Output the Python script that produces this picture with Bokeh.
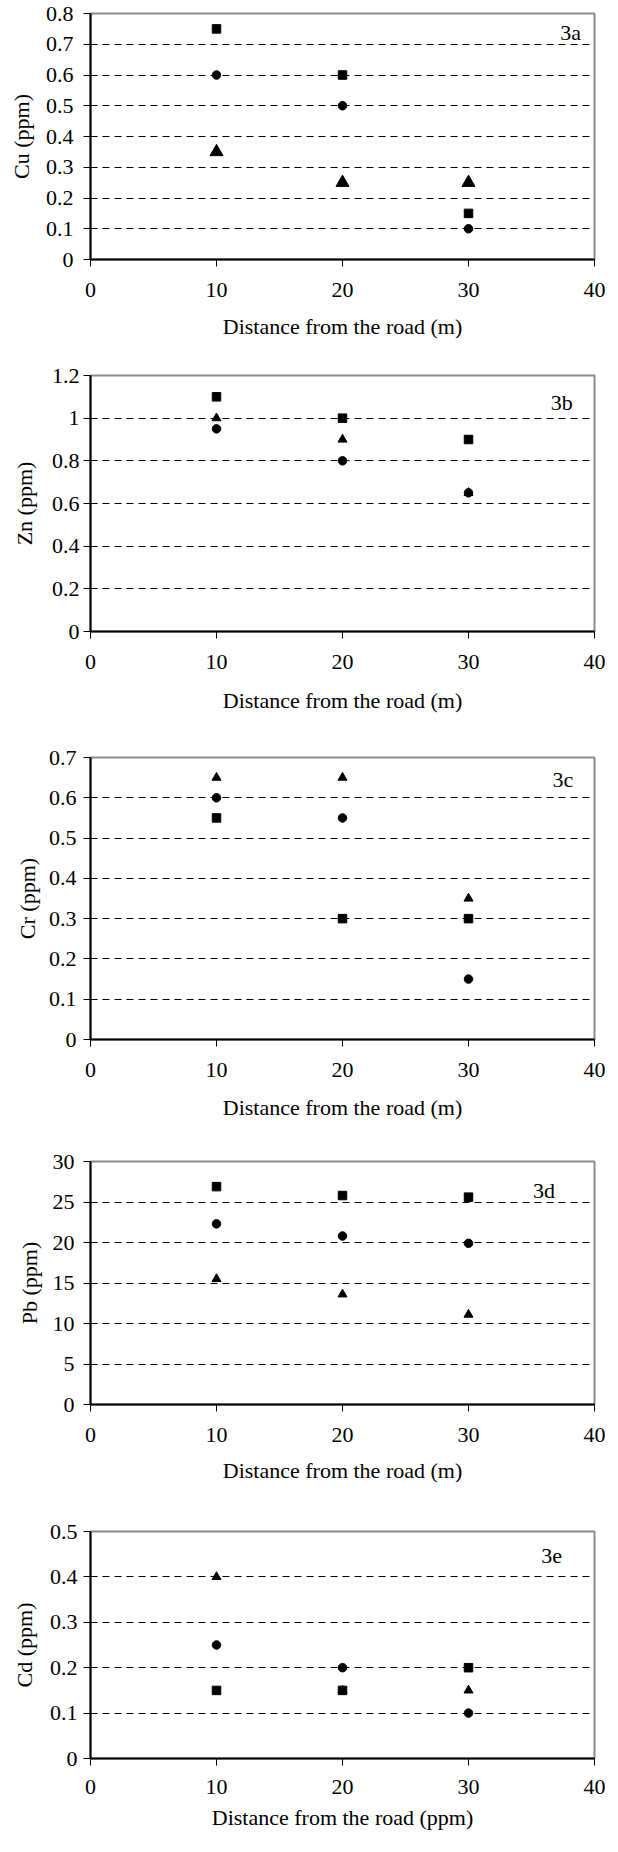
from bokeh.plotting import figure
from bokeh.layouts import column
from bokeh.models import FixedTicker, NumeralTickFormatter, Label, Range1d
from bokeh.embed import file_html
from bokeh.resources import INLINE

# ---------------- data ----------------
distance = [10, 20, 30]
x_ticks = [0, 10, 20, 30, 40]

cu_square = [0.75, 0.60, 0.15]
cu_circle = [0.60, 0.50, 0.10]
cu_triangle = [0.35, 0.25, 0.25]
cu_ticks = [0, 0.1, 0.2, 0.3, 0.4, 0.5, 0.6, 0.7, 0.8]

zn_square = [1.10, 1.00, 0.90]
zn_circle = [0.95, 0.80, 0.65]
zn_triangle = [1.00, 0.90, 0.65]
zn_ticks = [0, 0.2, 0.4, 0.6, 0.8, 1.0, 1.2]

cr_square = [0.55, 0.30, 0.30]
cr_circle = [0.60, 0.55, 0.15]
cr_triangle = [0.65, 0.65, 0.35]
cr_ticks = [0, 0.1, 0.2, 0.3, 0.4, 0.5, 0.6, 0.7]

pb_square = [26.9, 25.8, 25.6]
pb_circle = [22.3, 20.8, 19.9]
pb_triangle = [15.5, 13.6, 11.1]
pb_ticks = [0, 5, 10, 15, 20, 25, 30]

cd_square = [0.15, 0.15, 0.20]
cd_circle = [0.25, 0.20, 0.10]
cd_triangle = [0.40, 0.15, 0.15]
cd_ticks = [0, 0.1, 0.2, 0.3, 0.4, 0.5]

y_titles = ["Cu (ppm)", "Zn (ppm)", "Cr (ppm)", "Pb (ppm)", "Cd (ppm)"]
x_titles = ["Distance from the road (m)"] * 4 + ["Distance from the road (ppm)"]
panel_tags = ["3a", "3b", "3c", "3d", "3e"]

series = [
    (cu_square, cu_circle, cu_triangle, cu_ticks),
    (zn_square, zn_circle, zn_triangle, zn_ticks),
    (cr_square, cr_circle, cr_triangle, cr_ticks),
    (pb_square, pb_circle, pb_triangle, pb_ticks),
    (cd_square, cd_circle, cd_triangle, cd_ticks),
]

# ---------------- layout / style ----------------
FONT = "Liberation Serif"
W = 609
layout = [
    dict(h=354, t=13, b=95,  l=82, r=11, ys=10, yls=9,  xs=16, xls=14, tri=13, tx=38.1, ty=0.737),
    dict(h=380, t=21, b=103, l=90, r=13, ys=4,  yls=12, xs=16, xls=16, tri=9,  tx=37.4, ty=1.073),
    dict(h=398, t=23, b=93,  l=85, r=13, ys=7,  yls=6,  xs=16, xls=15, tri=9,  tx=37.5, ty=0.646),
    dict(h=365, t=29, b=93,  l=78, r=15, ys=9,  yls=8,  xs=16, xls=13, tri=9,  tx=36.0, ty=26.4),
    dict(h=339, t=34, b=78,  l=84, r=14, ys=6,  yls=10, xs=14, xls=8,  tri=9,  tx=36.6, ty=0.446),
]

figs = []
for i, ((sq, ci, tr, yt), L) in enumerate(zip(series, layout)):
    p = figure(width=W, height=L["h"], output_backend="svg", toolbar_location=None,
               x_range=Range1d(0, 40), y_range=Range1d(0, yt[-1]),
               min_border_top=L["t"], min_border_bottom=L["b"],
               min_border_left=L["l"], min_border_right=L["r"])
    p.background_fill_color = "white"
    p.border_fill_color = "white"
    p.outline_line_color = "#8c8c8c"
    p.outline_line_width = 2

    p.xgrid.visible = False
    p.ygrid.ticker = FixedTicker(ticks=yt[1:-1])
    p.ygrid.grid_line_color = "black"
    p.ygrid.grid_line_width = 1
    p.ygrid.grid_line_dash = "7 5"

    p.xaxis.ticker = FixedTicker(ticks=x_ticks)
    p.yaxis.ticker = FixedTicker(ticks=yt)
    p.yaxis.formatter = NumeralTickFormatter(format="0.[0]")

    for ax in (p.xaxis[0], p.yaxis[0]):
        ax.axis_line_color = "black"
        ax.axis_line_width = 2
        ax.major_tick_line_color = "black"
        ax.major_tick_line_width = 1
        ax.major_tick_out = 7
        ax.major_tick_in = 0
        ax.minor_tick_line_color = None
        ax.major_label_text_font = FONT
        ax.major_label_text_font_size = "22px"
        ax.major_label_text_color = "black"
        ax.axis_label_text_font = FONT
        ax.axis_label_text_font_size = "22px"
        ax.axis_label_text_font_style = "normal"
        ax.axis_label_text_color = "black"

    p.xaxis.axis_label = x_titles[i]
    p.yaxis.axis_label = y_titles[i]
    p.xaxis.major_label_standoff = L["xs"]
    p.xaxis.axis_label_standoff = L["xls"]
    p.yaxis.major_label_standoff = L["ys"]
    p.yaxis.axis_label_standoff = L["yls"]

    p.scatter(distance, tr, marker="triangle", size=L["tri"], color="black")
    p.scatter(distance, ci, marker="circle", size=8.5, color="black")
    p.scatter(distance, sq, marker="square", size=8.5, color="black")

    p.add_layout(Label(x=L["tx"], y=L["ty"], text=panel_tags[i], text_align="center",
                       text_baseline="middle", text_font=FONT, text_font_size="22px",
                       text_color="black"))
    figs.append(p)

page = column(*figs, spacing=0)
open("out.html", "w").write(file_html(page, INLINE))
